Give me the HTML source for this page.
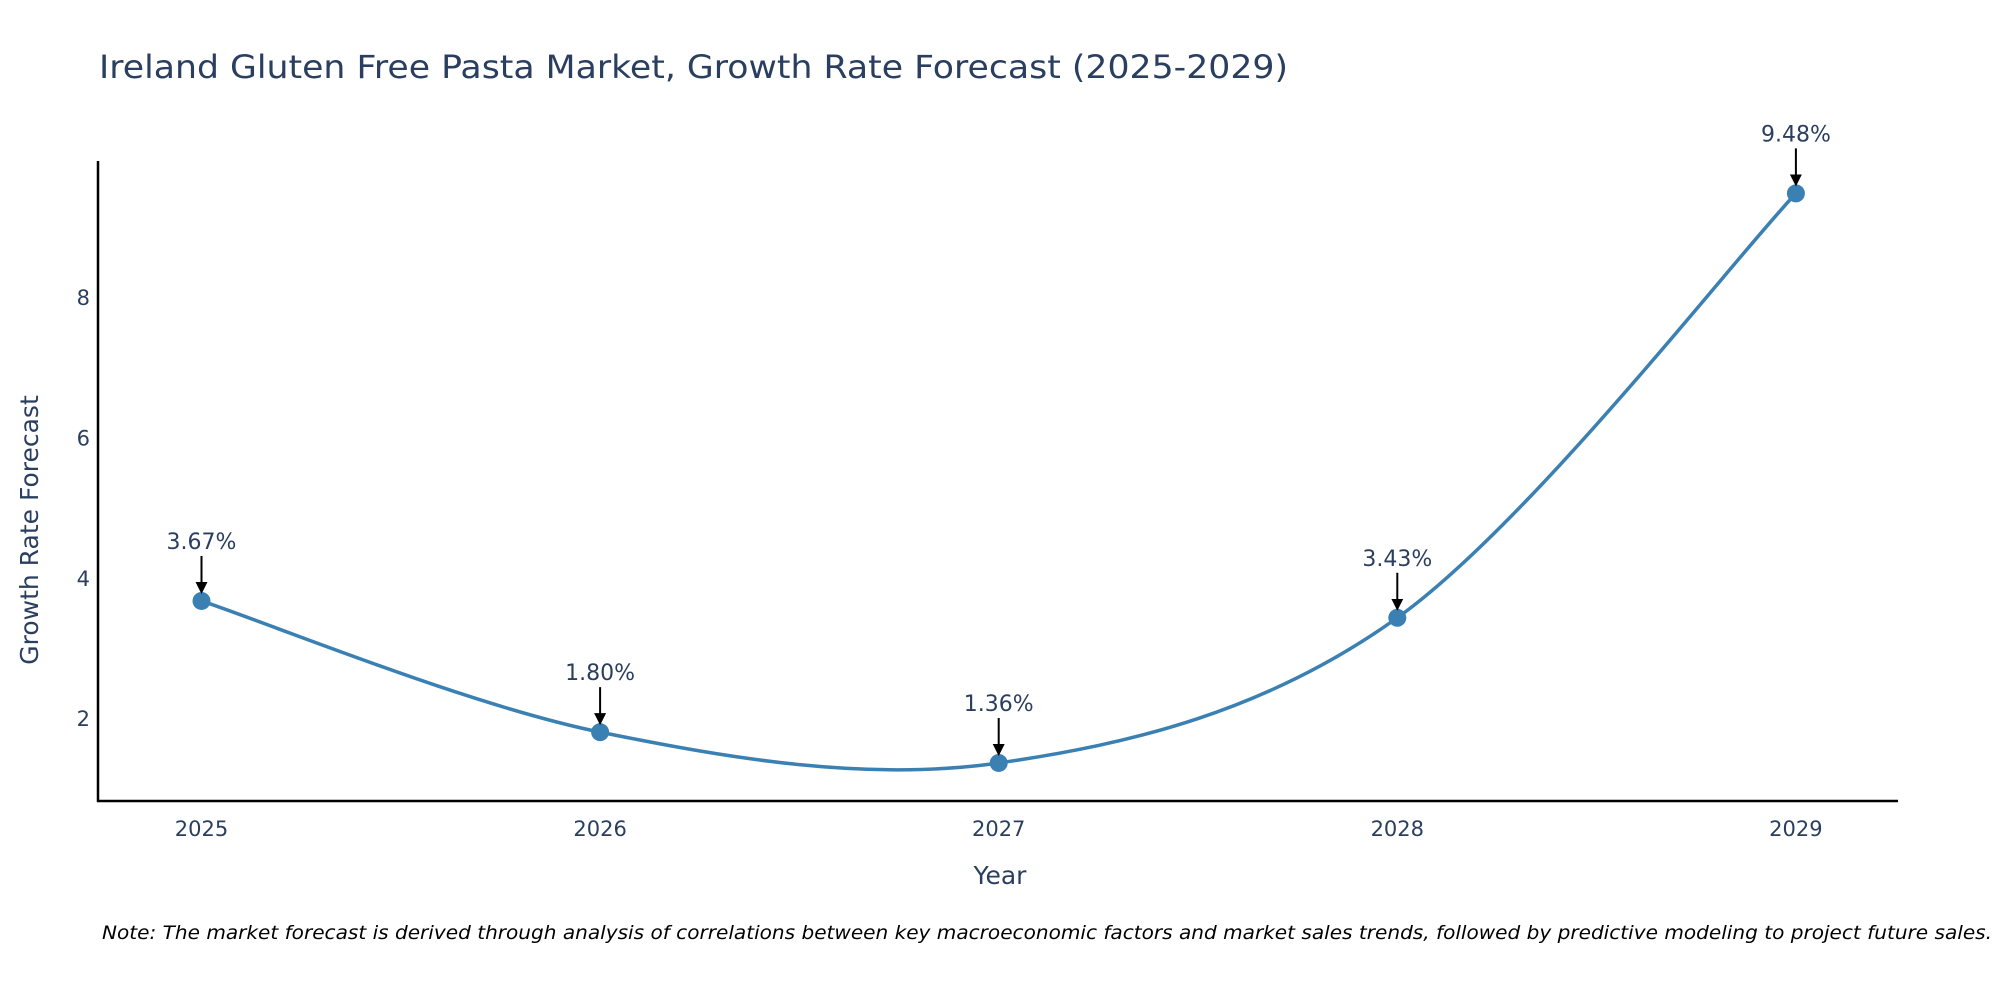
<!DOCTYPE html>
<html><head><meta charset="utf-8"><style>
body{margin:0;background:#fff;}
svg text{font-family:"DejaVu Sans","Liberation Sans",sans-serif;fill:#2a3f5f;}
</style></head><body>
<svg id="chart" width="2000" height="1000" xmlns="http://www.w3.org/2000/svg">
<text x="99" y="78" font-size="32" textLength="1189" lengthAdjust="spacingAndGlyphs">Ireland Gluten Free Pasta Market, Growth Rate Forecast (2025-2029)</text>
<g id="axes"></g>
<g id="series"></g>
<text x="1000" y="884" font-size="25" text-anchor="middle">Year</text>
<text transform="translate(38,530) rotate(-90)" font-size="25" text-anchor="middle">Growth Rate Forecast</text>
<text x="102" y="939" font-size="19" font-style="italic" textLength="1890" lengthAdjust="spacingAndGlyphs" style="fill:#000">Note: The market forecast is derived through analysis of correlations between key macroeconomic factors and market sales trends, followed by predictive modeling to project future sales.</text>
</svg>
<script>
const categories=["2025","2026","2027","2028","2029"];
const values=[3.67,1.80,1.36,3.43,9.48];
const yTicks=[2,4,6,8];
const NS="http://www.w3.org/2000/svg";
const xStart=201.5, xStep=398.6, y0=858.4, yUnit=70.15;
function xs(i){return xStart+i*xStep;}
function ys(v){return y0-v*yUnit;}
function mk(tag,attrs,parent){const e=document.createElementNS(NS,tag);for(const k in attrs)e.setAttribute(k,attrs[k]);parent.appendChild(e);return e;}
const axes=document.getElementById('axes'), ser=document.getElementById('series');
let a=mk('line',{x1:98,y1:161,x2:98,y2:802,stroke:'#000','stroke-width':2.5},axes);


a=mk('line',{x1:97,y1:801,x2:1898,y2:801,stroke:'#000','stroke-width':2.5},axes);


yTicks.forEach(t=>{const e=mk('text',{x:90,y:ys(t)+8,'font-size':21,'text-anchor':'end'},axes);e.textContent=t;

});
categories.forEach((c,i)=>{const e=mk('text',{x:xs(i),y:836,'font-size':21,'text-anchor':'middle'},axes);e.textContent=c;

});
const P=values.map((v,i)=>[xs(i),ys(v)]);
let d='M'+P[0][0]+','+P[0][1];
const t=0.33;
for(let i=0;i<P.length-1;i++){
 const p0=P[Math.max(i-1,0)],p1=P[i],p2=P[i+1],p3=P[Math.min(i+2,P.length-1)];
 const c1=[p1[0]+(p2[0]-p0[0])*t/2, p1[1]+(p2[1]-p0[1])*t/2];
 const c2=[p2[0]-(p3[0]-p1[0])*t/2, p2[1]-(p3[1]-p1[1])*t/2];
 d+=` C${c1[0]},${c1[1]} ${c2[0]},${c2[1]} ${p2[0]},${p2[1]}`;
}
let ln=mk('path',{d:d,fill:'none',stroke:'#3b80b3','stroke-width':3.5},ser);


mk('defs',{},ser).innerHTML='<marker id="ah" markerWidth="6" markerHeight="6" refX="5" refY="3" orient="auto" markerUnits="strokeWidth"><path d="M0,0 L6,3 L0,6 z" fill="#000"/></marker>';
P.forEach((p,i)=>{
 const c=mk('circle',{cx:p[0],cy:p[1],r:9,fill:'#3b80b3'},ser);
 
 
 const ar=mk('line',{x1:p[0],y1:p[1]-45,x2:p[0],y2:p[1]-9,stroke:'#000','stroke-width':2,'marker-end':'url(#ah)'},ser);
 
 
 const tx=mk('text',{x:p[0],y:p[1]-52,'font-size':22,'text-anchor':'middle'},ser);
 tx.textContent=values[i].toFixed(2)+'%';
 
 
});
</script>
</body></html>
